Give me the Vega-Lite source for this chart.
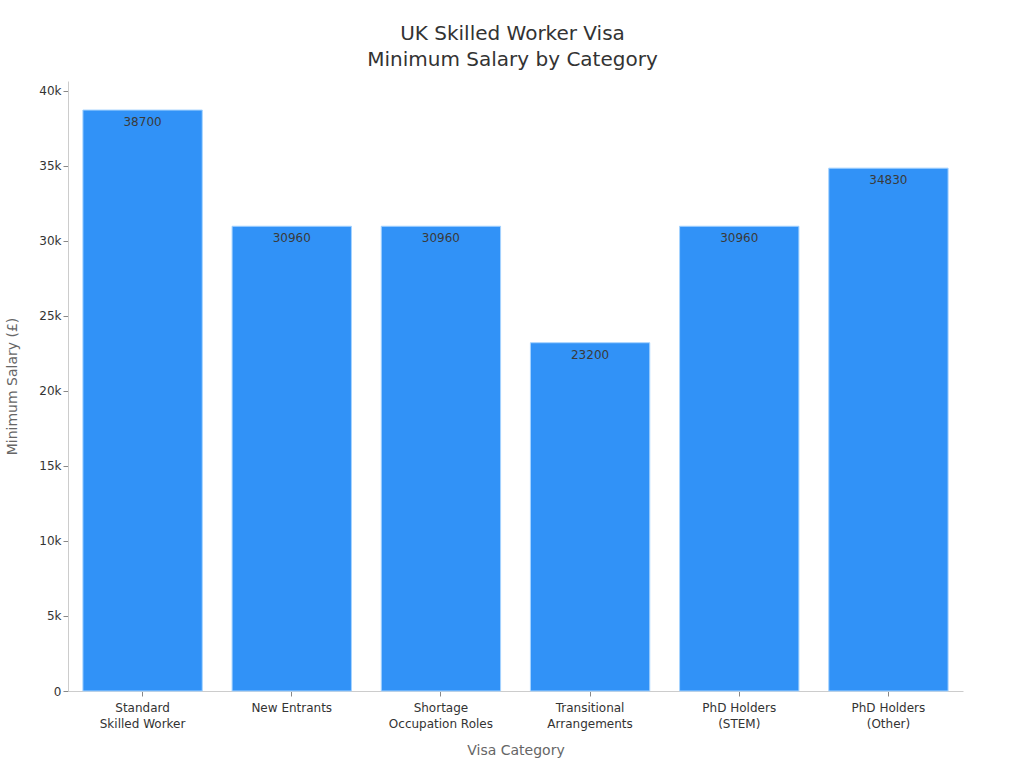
{
  "$schema": "https://vega.github.io/schema/vega-lite/v6.json",
  "width": 895,
  "height": 610,
  "autosize": {"type": "none"},
  "padding": {"left": 68, "top": 81, "right": 61, "bottom": 77},
  "background": "white",
  "title": {
    "text": ["UK Skilled Worker Visa", "Minimum Salary by Category"],
    "fontSize": 20,
    "font": "DejaVu Sans",
    "fontWeight": "normal",
    "color": "#333333",
    "lineHeight": 26,
    "anchor": "middle",
    "dx": -3,
    "offset": 11
  },
  "data": {
    "values": [
      {"category": "Standard|Skilled Worker", "salary": 38700},
      {"category": "New Entrants", "salary": 30960},
      {"category": "Shortage|Occupation Roles", "salary": 30960},
      {"category": "Transitional|Arrangements", "salary": 23200},
      {"category": "PhD Holders|(STEM)", "salary": 30960},
      {"category": "PhD Holders|(Other)", "salary": 34830}
    ]
  },
  "encoding": {
    "x": {
      "field": "category",
      "type": "nominal",
      "sort": null,
      "scale": {"paddingInner": 0.2, "paddingOuter": 0.1},
      "axis": {
        "title": "Visa Category",
        "labelExpr": "split(datum.label, '|')",
        "labelAngle": 0,
        "labelFont": "DejaVu Sans",
        "labelFontSize": 12,
        "labelColor": "#333333",
        "labelLineHeight": 16,
        "labelPadding": 6,
        "titleFont": "DejaVu Sans",
        "titleFontSize": 14,
        "titleFontWeight": "normal",
        "titleColor": "#666666",
        "titlePadding": 14,
        "domainColor": "#cccccc",
        "tickColor": "#888888",
        "tickSize": 5
      }
    },
    "y": {
      "field": "salary",
      "type": "quantitative",
      "scale": {"domain": [0, 40635], "nice": false},
      "axis": {
        "title": "Minimum Salary (£)",
        "labelExpr": "datum.value == 0 ? '0' : format(datum.value / 1000, 'd') + 'k'",
        "values": [0, 5000, 10000, 15000, 20000, 25000, 30000, 35000, 40000],
        "grid": false,
        "labelFont": "DejaVu Sans",
        "labelFontSize": 12,
        "labelColor": "#333333",
        "titleFont": "DejaVu Sans",
        "titleFontSize": 14,
        "titleFontWeight": "normal",
        "titleColor": "#666666",
        "titlePadding": 19,
        "domainColor": "#cccccc",
        "tickColor": "#888888",
        "tickSize": 5
      }
    }
  },
  "layer": [
    {
      "mark": {"type": "bar", "color": "#3192f7", "stroke": "#a5d3ff", "strokeWidth": 1}
    },
    {
      "mark": {"type": "text", "baseline": "top", "dy": 7, "fontSize": 12, "font": "DejaVu Sans", "color": "#3a3a3a"},
      "encoding": {"text": {"field": "salary", "type": "quantitative"}}
    }
  ],
  "config": {"view": {"stroke": null}}
}
